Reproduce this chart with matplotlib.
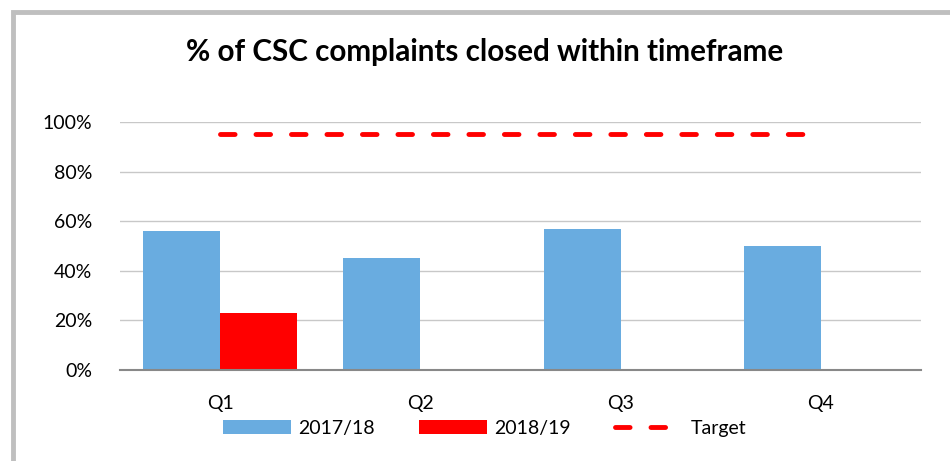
import matplotlib.pyplot as plt
import numpy as np
from matplotlib.patches import Rectangle
from matplotlib.ticker import PercentFormatter

quarters = ['Q1', 'Q2', 'Q3', 'Q4']
y2017 = [0.56, 0.45, 0.57, 0.50]
y2018 = [0.23, 0.0, 0.0, 0.0]
target = [0.95, 0.95, 0.95, 0.95]

blue = '#69ACE0'
red = '#FF0000'

plt.rcParams['font.family'] = ['Lato', 'DejaVu Sans']

fig = plt.figure(figsize=(9.5, 4.61), dpi=100)
ax = fig.add_axes([0.1263, 0.1974, 0.8432, 0.538])

x = np.arange(len(quarters))
w = 0.385
b1 = ax.bar(x - w / 2, y2017, w, color=blue, label='2017/18', zorder=2)
b2 = ax.bar(x + w / 2, y2018, w, color=red, label='2018/19', zorder=2)
ln, = ax.plot(x, target, color=red, lw=3.5, dashes=(3.0, 4.3),
              dash_capstyle='round', label='Target', zorder=3)

ax.set_xlim(-0.5, 3.5)
ax.set_ylim(0, 1)
ax.set_yticks(np.arange(0, 1.01, 0.2))
ax.yaxis.set_major_formatter(PercentFormatter(1.0, decimals=0))
ax.set_xticks(x)
ax.set_xticklabels(quarters)
ax.tick_params(axis='both', length=0, labelsize=14, colors='black')
ax.tick_params(axis='y', pad=20)
ax.tick_params(axis='x', pad=18)
ax.grid(axis='y', color='#C8C8C8', lw=1, zorder=0)
for s in ['top', 'right', 'left']:
    ax.spines[s].set_visible(False)
ax.spines['bottom'].set_color('#888888')
ax.spines['bottom'].set_linewidth(1.5)

fig.text(0.51, 0.887, '% of CSC complaints closed within timeframe',
         ha='center', va='center', fontsize=21.3, fontweight='bold')

ax.legend(handles=[b1, b2, ln], loc='center',
          bbox_to_anchor=(0.51, 1 - 428 / 461), bbox_transform=fig.transFigure,
          ncol=3, frameon=False, fontsize=14, handlelength=3.5,
          handleheight=0.75, columnspacing=2.3, handletextpad=0.35)

# gray frame around the chart
fig.patches.append(Rectangle((12.5 / 950, -0.1), 1.2, 1 - 12.5 / 461 + 0.1,
                             transform=fig.transFigure, fill=False,
                             edgecolor='#BFBFBF', lw=3.5))

fig.savefig('out.png', dpi=100)
